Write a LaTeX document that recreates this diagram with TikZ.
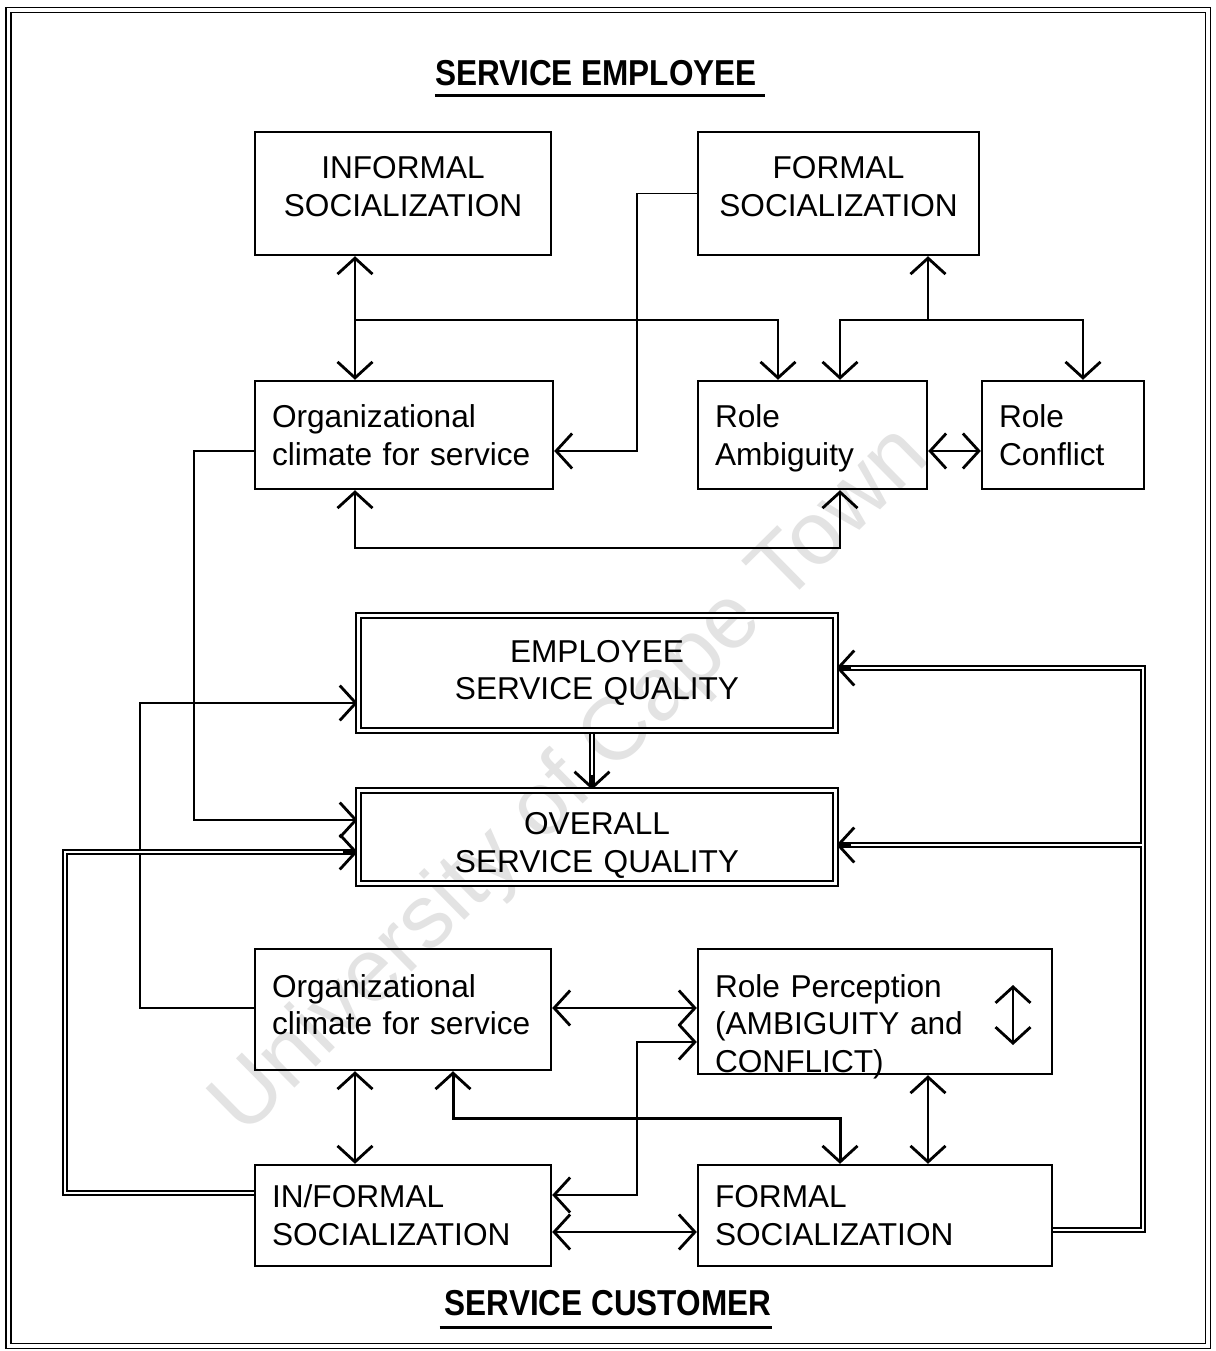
\documentclass[tikz,border=0pt]{standalone}
\usepackage{fontspec}
\setmainfont{Liberation Sans}
\usetikzlibrary{arrows.meta}
\pgfdeclarelayer{background}
\pgfsetlayers{background,main}
% vertical padding helpers for node text
\newcommand\padtop[1]{\rule{0pt}{#1}}
\newcommand\padbot[1]{\rule[-#1]{0pt}{0pt}}
\begin{document}
\begin{tikzpicture}[x=0.02cm,y=-0.02cm,
  >={Straight Barb[length=3.2mm,width=7mm,line width=1.6pt]},
  box/.style={draw, line width=1.4pt, rectangle, inner xsep=0.34cm, inner ysep=0pt,
              font=\fontsize{18}{21.5}\selectfont},
  lbox/.style={box, align=left},
  cbox/.style={box, inner xsep=0.2cm, align=center},
  dbox/.style={cbox, double, line width=1pt, double distance=1.5pt},
  conn/.style={line width=1.1pt},
  heavy/.style={line width=1.7pt},
  dblout/.style={line width=3.4pt, line join=miter},
  dblin/.style={line width=1.5pt, white, line join=miter},
  title/.style={inner sep=0pt, font=\fontsize{20.5}{24}\selectfont\bfseries},
]
\useasboundingbox (0,0) rectangle (1215,1351);

% --- boxes: employee side
\node[cbox, text width=5.52cm, minimum height=2.46cm] (inf) at (403,193.5) {INFORMAL\\SOCIALIZATION\padbot{8pt}};
\node[cbox, text width=5.22cm, minimum height=2.46cm] (fs) at (838.5,193.5) {FORMAL\\SOCIALIZATION\padbot{8pt}};
\node[lbox, text width=5.28cm, minimum height=2.16cm] (oc) at (404,435) {Organizational\\climate for service};
\node[lbox, text width=3.90cm, minimum height=2.16cm] (ra) at (812.5,435) {\padtop{17pt}Role\\Ambiguity};
\node[lbox, text width=2.56cm, minimum height=2.16cm] (rc) at (1063,435) {Role\\Conflict};

% --- quality boxes
\node[dbox, text width=9.14cm, minimum height=2.3cm] (esq) at (597,673) {EMPLOYEE\\SERVICE QUALITY\padbot{3.4pt}};
\node[dbox, text width=9.14cm, minimum height=1.86cm] (osq) at (597,837) {\padtop{22pt}OVERALL\\SERVICE QUALITY};

% --- boxes: customer side
\node[lbox, text width=5.24cm, minimum height=2.42cm] (oc2) at (403,1009.5) {Organizational\\climate for service\padbot{5.6pt}};
\node[lbox, text width=6.40cm, minimum height=2.5cm] (rp) at (875,1011.5)
  {\padtop{26.5pt}Role Perception\\(AMBIGUITY and\\\smash{CONFLICT)}};
\node[lbox, text width=5.24cm, minimum height=2.02cm] (ifs) at (403,1215.5) {IN/FORMAL\\SOCIALIZATION};
\node[lbox, text width=6.40cm, minimum height=2.02cm] (fs2) at (875,1215.5) {FORMAL\\SOCIALIZATION};

% --- headings
\node[title] (tE) at (596,73) {\scalebox{0.875}[1]{SERVICE EMPLOYEE}};
\draw[line width=1.7pt] ([yshift=-0.19cm]tE.south west) -- ([yshift=-0.19cm,xshift=0.16cm]tE.south east);
\node[title] (tC) at (608,1303) {\scalebox{0.875}[1]{SERVICE CUSTOMER}};
\draw[line width=1.7pt] ([yshift=-0.22cm,xshift=-0.1cm]tC.south west) -- ([yshift=-0.22cm]tC.south east);

% --- frame
\draw[double, line width=0.9pt, double distance=1.8pt] (8.5,10) rectangle (1208,1346);

\begin{pgfonlayer}{background}
  \fill[white] (0,0) rectangle (1215,1351);
  \node[rotate=44.6, text=black!11, font=\fontsize{51}{51}\selectfont, inner sep=0pt]
    (wm) at (572,782) {University of Cape Town};

  % employee side links
  \draw[conn,<->] (inf.south -| 355,0) -- (oc.north -| 355,0);
  \coordinate (jA) at (355,320);
  \draw[conn,->] (jA) -| (ra.north -| 778,0);
  \draw[conn,->] (fs.west) -| (637,451) -- (oc.east |- 0,451);
  \coordinate (jB) at (928,320);
  \draw[conn,->] (jB) -- (fs.south -| jB);
  \draw[conn,<->] (ra.north -| 840,0) |- (jB) -| (rc.north -| 1083,0);
  \draw[conn,<->] (ra.east |- 0,451) -- (rc.west |- 0,451);
  \draw[conn,<->] (oc.south -| 355,0) |- (840,548) -- (ra.south -| 840,0);

  % links into the quality boxes
  \draw[conn,->] (oc.west |- 0,451) -| (194,820) -- (osq.west |- 0,820);
  \draw[conn,->] (oc2.west |- 0,1008) -| (140,703) -- (esq.west |- 0,703);

  % double links (outer stroke, then inner white)
  \foreach \s in {dblout,dblin} {
    \draw[\s] (ifs.west |- 0,1193) -| (65,852) -- (osq.west |- 0,852);
    \draw[\s] (fs2.east |- 0,1230) -| (1143,668) -- (esq.east |- 0,668);
    \draw[\s] (1143,845) -- (osq.east |- 0,845);
    \draw[\s] (esq.south -| 592,0) -- (osq.north -| 592,0);
  }
  \path (osq.west |- 0,852) coordinate (hA)
        (esq.east |- 0,668) coordinate (hB)
        (osq.east |- 0,845) coordinate (hC)
        (osq.north -| 592,0) coordinate (hD);
  \draw[conn,->] ([xshift=-0.3cm]hA) -- (hA);
  \draw[conn,->] ([xshift=0.3cm]hB) -- (hB);
  \draw[conn,->] ([xshift=0.3cm]hC) -- (hC);
  \draw[conn,->] ([yshift=0.3cm]hD) -- (hD);

  % customer side links
  \draw[conn,<->] (oc2.east |- 0,1008) -- (rp.west |- 0,1008);
  \draw[conn,<->] (ifs.east |- 0,1195) -| (637,1042) -- (rp.west |- 0,1042);
  \draw[conn,<->] (ifs.east |- 0,1232) -- (fs2.west |- 0,1232);
  \draw[conn,<->] (oc2.south -| 355,0) -- (ifs.north -| 355,0);
  \draw[heavy,<->] (oc2.south -| 453,0) |- (840,1118) -- (fs2.north -| 840,0);
  \draw[conn,<->] (rp.south -| 928,0) -- (fs2.north -| 928,0);
  \draw[conn,<->] (1013,985) -- (1013,1045);
\end{pgfonlayer}
\end{tikzpicture}
\end{document}
